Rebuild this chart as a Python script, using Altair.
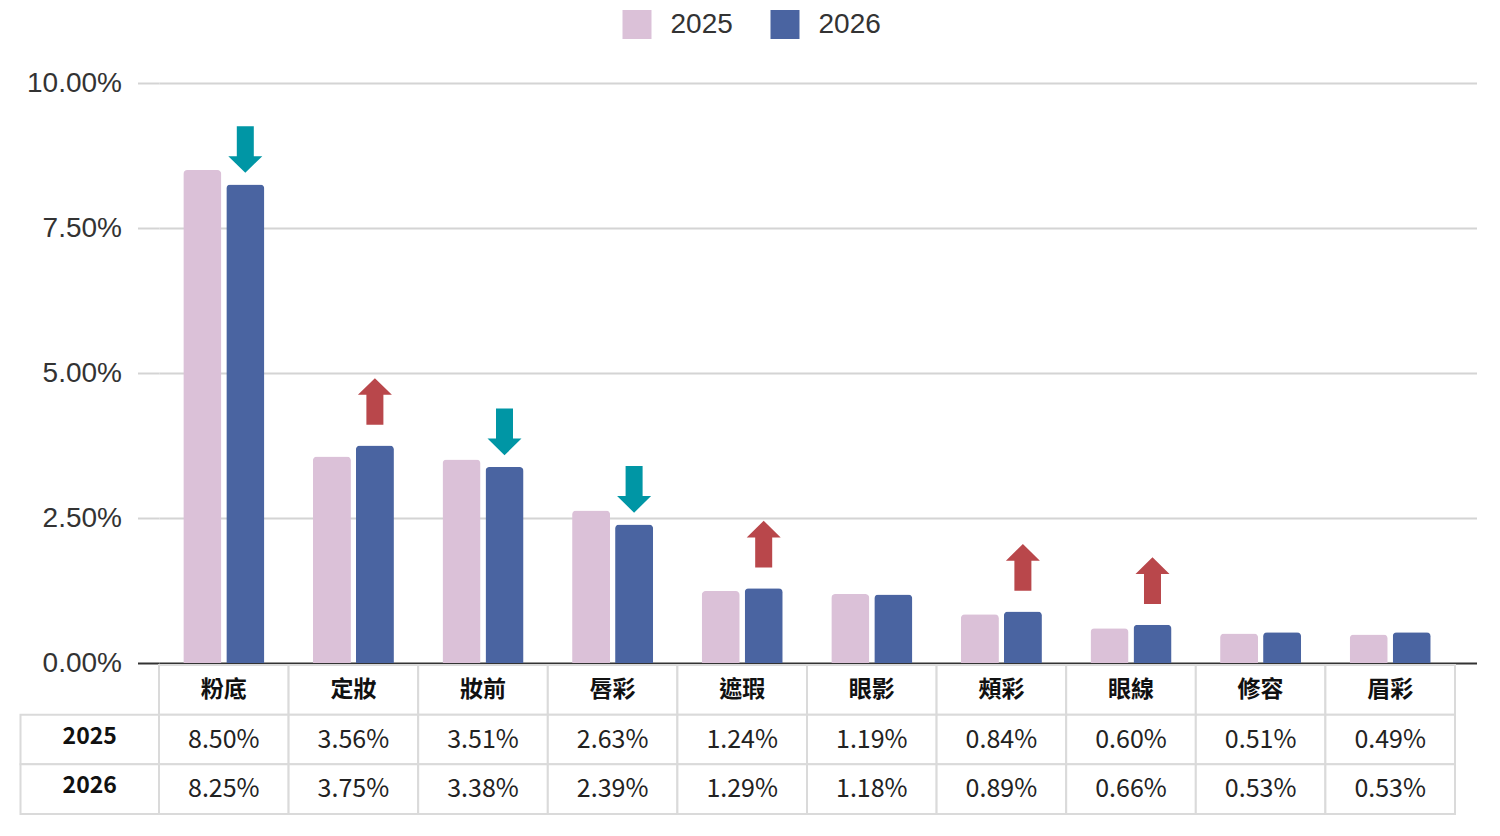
import altair as alt
import pandas as pd

categories = ["粉底", "定妝", "妝前", "唇彩", "遮瑕", "眼影", "頰彩", "眼線", "修容", "眉彩"]
share_2025 = [8.50, 3.56, 3.51, 2.63, 1.24, 1.19, 0.84, 0.60, 0.51, 0.49]
share_2026 = [8.25, 3.75, 3.38, 2.39, 1.29, 1.18, 0.89, 0.66, 0.53, 0.53]
trend = ["down", "up", "down", "down", "up", "", "up", "up", "", ""]
years = ["2025", "2026"]
y_ticks = [0, 2.5, 5, 7.5, 10]
row_keys = ["header", "2025", "2026"]

PINK = "#dbc1d8"
BLUE = "#4a64a1"
RED = "#b9474b"
TEAL = "#0096a5"
GRID = "#d4d4d4"
BORDER = "#dadada"
CJK = "Noto Sans CJK TC"
LATIN = "Liberation Sans"

bars_df = pd.DataFrame({
    "cat": categories * 2,
    "year": ["2025"] * len(categories) + ["2026"] * len(categories),
    "value": share_2025 + share_2026,
})
arrow_df = pd.DataFrame({
    "cat": categories,
    "year": ["2026"] * len(categories),
    "value": share_2026,
    "trend": trend,
})

header_rows = [{"cat": c, "row": "header", "label": c} for c in categories]
value_rows = (
    [{"cat": c, "row": "2025", "label": f"{v:.2f}%"} for c, v in zip(categories, share_2025)]
    + [{"cat": c, "row": "2026", "label": f"{v:.2f}%"} for c, v in zip(categories, share_2026)]
)
table_df = pd.DataFrame(header_rows + value_rows)
label_df = pd.DataFrame({"col": ["年度"] * 2, "row": years})

# ---------- bar chart ----------
x_bar = alt.X("cat:N", sort=categories, axis=None,
              scale=alt.Scale(domain=categories, paddingInner=0, paddingOuter=0.083, align=0))
xoff = alt.XOffset("year:N", sort=years,
                   scale=alt.Scale(domain=years, paddingInner=0.116, paddingOuter=0.565))
y_bar = alt.Y(
    "value:Q",
    scale=alt.Scale(domain=[0, 10], nice=False, zero=True),
    axis=alt.Axis(
        values=y_ticks,
        labelExpr="format(datum.value, '.2f') + '%'",
        title=None,
        domain=False,
        tickSize=21.5,
        tickWidth=2,
        tickColor={"condition": {"test": "datum.value === 0", "value": "#333333"}, "value": GRID},
        grid=True,
        gridWidth=2,
        gridColor={"condition": {"test": "datum.value === 0", "value": "#333333"}, "value": GRID},
        labelFont=LATIN,
        labelFontSize=28,
        labelColor="#333333",
        labelPadding=16,
    ),
)

bars = alt.Chart(bars_df).mark_bar(cornerRadiusTopLeft=4, cornerRadiusTopRight=4).encode(
    x=x_bar,
    xOffset=xoff,
    y=y_bar,
    color=alt.Color(
        "year:N",
        scale=alt.Scale(domain=years, range=[PINK, BLUE]),
        legend=alt.Legend(
            orient="none", legendX=463.5, legendY=-73, direction="horizontal",
            title=None, symbolType="square", symbolSize=841, symbolStrokeWidth=0,
            symbolOpacity=1, labelFont=LATIN, labelFontSize=28, labelColor="#333333",
            labelOffset=19, columnPadding=37,
        ),
    ),
)

down_path = "M-0.364,-1 L0.364,-1 L0.364,0.285 L0.728,0.285 L0,1 L-0.728,0.285 L-0.364,0.285 Z"
up_path = "M-0.364,1 L0.364,1 L0.364,-0.285 L0.728,-0.285 L0,-1 L-0.728,-0.285 L-0.364,-0.285 Z"

down_arrows = alt.Chart(arrow_df).transform_filter("datum.trend === 'down'").mark_point(
    shape=down_path, size=2181, filled=True, color=TEAL, opacity=1, strokeWidth=0,
    yOffset=-35, xOffset=2
).encode(x=x_bar, xOffset=xoff, y=alt.Y("value:Q"))

up_arrows = alt.Chart(arrow_df).transform_filter("datum.trend === 'up'").mark_point(
    shape=up_path, size=2181, filled=True, color=RED, opacity=1, strokeWidth=0, yOffset=-44
).encode(x=x_bar, xOffset=xoff, y=alt.Y("value:Q"))

bar_chart = alt.layer(bars, down_arrows, up_arrows).properties(width=1317.5, height=580)

# ---------- table ----------
x_tab = alt.X("cat:N", sort=categories, axis=None,
              scale=alt.Scale(domain=categories, paddingInner=0, paddingOuter=0))
y_tab = alt.Y("row:N", sort=row_keys, axis=None,
              scale=alt.Scale(domain=row_keys, paddingInner=0, paddingOuter=0))

cells = alt.Chart(table_df).mark_rect(fill="white", stroke=BORDER, strokeWidth=2).encode(
    x=x_tab, y=y_tab)
header_text = alt.Chart(table_df).transform_filter("datum.row === 'header'").mark_text(
    font=CJK, fontSize=23, fontWeight="bold", color="#111111", baseline="middle"
).encode(x=x_tab, y=y_tab, text="label:N")
value_text = alt.Chart(table_df).transform_filter("datum.row !== 'header'").mark_text(
    font=CJK, fontSize=25, color="#222222", baseline="middle"
).encode(x=x_tab, y=y_tab, text="label:N")

x_lab = alt.X("col:N", axis=None,
              scale=alt.Scale(domain=["年度"], range=[-138.5, 0], paddingInner=0, paddingOuter=0))
label_cells = alt.Chart(label_df).mark_rect(fill="white", stroke=BORDER, strokeWidth=2).encode(
    x=x_lab, y=y_tab)
label_text = alt.Chart(label_df).mark_text(
    font=CJK, fontSize=23, fontWeight="bold", color="#111111", baseline="middle", dy=-3
).encode(x=x_lab, y=y_tab, text="row:N")

table_chart = alt.layer(cells, header_text, value_text, label_cells, label_text).resolve_scale(
    x="independent").properties(width=1296, height=149)

chart = alt.vconcat(bar_chart, table_chart, spacing=2, bounds="flush").properties(
    padding={"left": 11, "top": 2, "right": 5, "bottom": 5}
).configure_view(strokeWidth=0)

chart.save("out.html", embed_options={"renderer": "svg", "actions": False})
